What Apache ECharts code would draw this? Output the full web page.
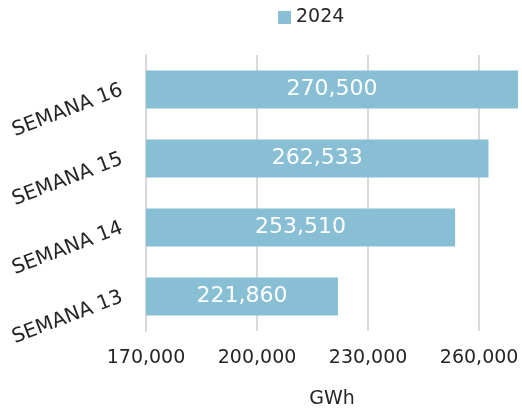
<!DOCTYPE html>
<html><head><meta charset="utf-8">
<script src="https://cdn.jsdelivr.net/npm/echarts@6/dist/echarts.min.js"></script>
<style>html,body{margin:0;padding:0;background:#fff}#c{width:522px;height:414px}</style>
</head><body><div id="c"></div>
<script>
const categories = ['SEMANA 13', 'SEMANA 14', 'SEMANA 15', 'SEMANA 16'];
const values2024 = [221860, 253510, 262533, 270500];
const seriesName = '2024';
const axisName = 'GWh';

const font = '"DejaVu Sans", sans-serif';
const grid = '#d9d9d9';
const chart = echarts.init(document.getElementById('c'));
chart.setOption({
  animation: false,
  legend: {
    data: [seriesName], top: 8, left: 278, padding: 0, itemWidth: 13, itemHeight: 13, itemGap: 5,
    icon: 'rect',
    textStyle: { fontFamily: font, fontSize: 19, color: '#262626' }
  },
  grid: { left: 146, right: 4, top: 55, bottom: 79, containLabel: false },
  xAxis: {
    type: 'value', min: 170000, max: 270500, interval: 30000,
    name: axisName, nameLocation: 'middle', nameGap: 59,
    nameTextStyle: { fontFamily: font, fontSize: 19, color: '#262626' },
    axisLine: { show: false }, axisTick: { show: false },
    axisLabel: { fontFamily: font, fontSize: 19, color: '#262626', margin: 18, showMaxLabel: false,
      formatter: v => v.toLocaleString('en-US') },
    splitLine: { show: true, lineStyle: { color: [grid, grid, grid, grid, 'rgba(0,0,0,0)'], width: 2 } }
  },
  yAxis: {
    type: 'category', data: categories,
    axisLine: { show: true, lineStyle: { color: grid, width: 2 } },
    axisTick: { show: false },
    axisLabel: { fontFamily: font, fontSize: 20, color: '#262626', rotate: 21, margin: 24 }
  },
  series: [{
    name: seriesName, type: 'bar', data: values2024, barCategoryGap: '45%',
    itemStyle: { color: '#88bfd5' },
    label: { show: true, position: 'inside', color: '#ffffff', fontFamily: font, fontSize: 22,
      formatter: p => p.value.toLocaleString('en-US') }
  }]
});
</script></body></html>
